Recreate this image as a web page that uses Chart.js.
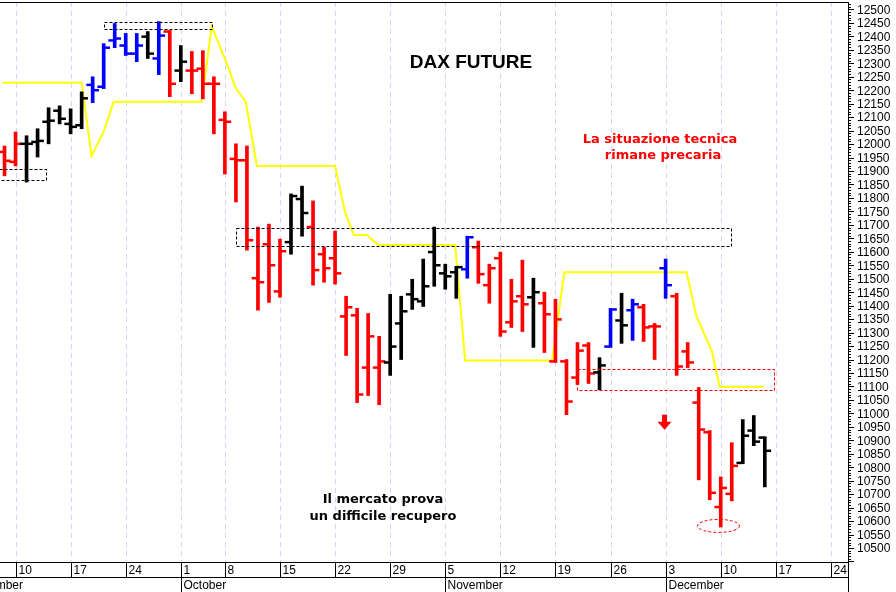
<!DOCTYPE html>
<html>
<head>
<meta charset="utf-8">
<script src="https://cdn.jsdelivr.net/npm/chart.js@4"></script>
<style>
  html, body { margin: 0; padding: 0; background: #fff; }
  canvas { display: block; }
</style>
</head>
<body>
<canvas id="c" width="896" height="592"></canvas>
<script>
// trading-day index (0 = Sep 10), OHLC
const dayIdx = [];
for (let i = -1; i <= 68; i++) dayIdx.push(i);
const opens = [11971,11934,12001,12008,12083,12124,12075,12070,12220,12213,12385,12366,12336,12399,12318,12418,12273,12273,12280,12224,12090,11945,11940,11502,11628,11453,11636,11796,11692,11591,11576,11360,11364,11170,11170,11189,11334,11442,11416,11599,11520,11524,11535,11617,11476,11576,11338,11435,11431,11409,11193,11193,11133,11252,11152,11248,11345,11383,11394,11323,11539,11435,11230,11040,10930,10652,10701,10816,10936,10910];
const highs = [11993,12045,12031,12057,12135,12142,12131,12194,12250,12373,12448,12411,12411,12418,12455,12422,12366,12344,12347,12250,12120,12001,11993,11692,11703,11647,11815,11844,11789,11617,11677,11435,11390,11371,11286,11442,11435,11498,11573,11692,11554,11546,11658,11640,11554,11599,11498,11569,11502,11450,11424,11200,11263,11263,11207,11390,11446,11424,11405,11334,11573,11446,11263,11096,10936,10764,10891,10977,10992,10913];
const lows = [11882,11919,11859,11952,12001,12075,12038,12057,12154,12206,12358,12329,12306,12318,12258,12176,12232,12187,12168,12038,11889,11785,11606,11383,11412,11431,11591,11658,11476,11487,11480,11215,11040,11066,11032,11141,11200,11386,11397,11472,11461,11427,11502,11483,11409,11286,11319,11304,11245,11226,11189,10995,11107,11111,11088,11245,11260,11271,11267,11200,11427,11141,11170,10753,10679,10578,10675,10813,10880,10727];
const closes = [11938,12001,12001,12012,12087,12094,12064,12170,12200,12358,12392,12336,12366,12336,12403,12224,12306,12273,12224,12224,12083,11940,11643,11487,11550,11602,11807,11744,11532,11539,11520,11394,11070,11286,11193,11248,11379,11424,11472,11550,11509,11543,11654,11517,11539,11304,11416,11405,11450,11368,11349,11044,11233,11148,11178,11386,11327,11405,11319,11323,11476,11174,11189,10940,10705,10723,10805,10917,10895,10861];
const barCodes = "rrkkkkkkbbbbbkbrkrrrrrrrrrkkrrrrrrrkkkkkkkbrrrrrkrrrrrkbkbrrbrrrrrrkkk";

// yellow stop line
const stopX = [-1.55,-1.18,6.0,6.9,8.0,8.9,16.9,17.8,19.1,20.0,20.9,21.9,29.0,29.9,30.7,31.9,32.9,39.9,40.8,48.7,49.8,60.9,61.8,63.2,63.9,67.9];
const stopY = [12269,12228,12228,11956,12046,12157,12157,12437,12306,12206,12157,11919,11919,11748,11662,11662,11625,11625,11196,11196,11524,11524,11360,11230,11099,11099];

// axis labels
const priceTicks = [];
for (let v = 10500; v <= 12500; v += 50) priceTicks.push(v);
const weekIdx = [0,5,10,15,19,24,29,34,39,44,49,54,59,64,69,74];
const weekLabels = ["10","17","24","1","8","15","22","29","5","12","19","26","3","10","17","24"];
const monthIdx = [15,39,59];
const monthLabels = ["October","November","December"];

// dashed boxes: [x0, x1, yLow, yHigh, colour]
const boxes = [
  [-1.55, 2.8, 11867, 11908, "#000"],
  [8.0, 17.8, 12429, 12455, "#000"],
  [20.0, 64.9, 11621, 11688, "#000"],
  [51.0, 68.9, 11088, 11166, "#f00"]
];

const colorOf = { r: "#ff0000", k: "#000000", b: "#0000ff" };
const barColors = dayIdx.map((_, k) => colorOf[barCodes[k]]);

const Y_MIN = 10448, Y_MAX = 12511;
const FRAME_TOP = 2;

const extras = {
  id: "extras",
  beforeDatasetsDraw(chart) {
    const { ctx, chartArea: a, scales: { x } } = chart;
    ctx.save();
    ctx.strokeStyle = "#d4d4ee";
    ctx.lineWidth = 1;
    ctx.setLineDash([5, 4]);
    weekIdx.forEach((d) => {
      const px = Math.round(x.getPixelForValue(d)) + 0.5;
      ctx.beginPath(); ctx.moveTo(px, FRAME_TOP); ctx.lineTo(px, a.bottom); ctx.stroke();
    });
    ctx.restore();
  },
  afterDatasetsDraw(chart) {
    const { ctx, chartArea: a, scales: { x, y } } = chart;
    ctx.save();
    ctx.lineWidth = 1;
    ctx.setLineDash([3, 2]);
    boxes.forEach((b) => {
      ctx.strokeStyle = b[4];
      const x0 = Math.max(x.getPixelForValue(b[0]), -1), x1 = x.getPixelForValue(b[1]);
      const y0 = y.getPixelForValue(b[3]), y1 = y.getPixelForValue(b[2]);
      ctx.strokeRect(Math.round(x0) + 0.5, Math.round(y0) + 0.5, Math.round(x1 - x0), Math.round(y1 - y0));
    });
    ctx.strokeStyle = "#f00";
    ctx.beginPath();
    ctx.ellipse(x.getPixelForValue(63.8), y.getPixelForValue(10582), 21, 6.5, 0, 0, Math.PI * 2);
    ctx.stroke();
    ctx.setLineDash([]);
    const ax = x.getPixelForValue(58.9), ay = y.getPixelForValue(10995);
    ctx.fillStyle = "#f00";
    ctx.fillRect(ax - 2.5, ay, 5, 8);
    ctx.beginPath();
    ctx.moveTo(ax - 7, ay + 7); ctx.lineTo(ax + 7, ay + 7); ctx.lineTo(ax, ay + 15); ctx.closePath(); ctx.fill();
    ctx.textAlign = "center";
    ctx.fillStyle = "#000";
    ctx.font = "bold 19px 'Liberation Sans', Arial, sans-serif";
    ctx.fillText("DAX FUTURE", 471, 68);
    ctx.fillStyle = "#ff0000";
    ctx.font = "bold 13px 'DejaVu Sans', sans-serif";
    ctx.fillText("La situazione tecnica", 660, 143);
    ctx.fillText("rimane precaria", 663, 159);
    ctx.fillStyle = "#000";
    ctx.fillText("Il mercato prova", 383, 503);
    ctx.fillText("un difficile recupero", 383, 520);
    // frame and bottom axis
    ctx.strokeStyle = "#000";
    ctx.lineWidth = 1;
    ctx.beginPath();
    ctx.moveTo(0, a.bottom + 0.5); ctx.lineTo(a.right, a.bottom + 0.5);
    ctx.moveTo(0, a.bottom + 15.5); ctx.lineTo(a.right, a.bottom + 15.5);
    ctx.moveTo(a.right + 0.5, FRAME_TOP); ctx.lineTo(a.right + 0.5, a.bottom + 30);
    ctx.moveTo(0, FRAME_TOP + 0.5); ctx.lineTo(a.right, FRAME_TOP + 0.5);
    ctx.stroke();
    ctx.font = "12px 'Liberation Sans', Arial, sans-serif";
    ctx.textAlign = "left";
    ctx.textBaseline = "middle";
    weekIdx.forEach((d, k) => {
      const px = Math.round(x.getPixelForValue(d)) + 0.5;
      ctx.beginPath(); ctx.moveTo(px, a.bottom); ctx.lineTo(px, a.bottom + 15); ctx.stroke();
      ctx.fillText(weekLabels[k], px + 2, a.bottom + 8.5);
    });
    ctx.textAlign = "right";
    ctx.fillText("September", 23, a.bottom + 23.5);
    ctx.textAlign = "left";
    monthIdx.forEach((d, k) => {
      const px = Math.round(x.getPixelForValue(d)) + 0.5;
      ctx.beginPath(); ctx.moveTo(px, a.bottom); ctx.lineTo(px, a.bottom + 30); ctx.stroke();
      ctx.fillText(monthLabels[k], px + 2, a.bottom + 23.5);
    });
    // price axis ticks and labels
    ctx.beginPath();
    for (let v = 10450; v <= 12530; v += 10) {
      const py = Math.round(y.getPixelForValue(v)) + 0.5;
      if (py < FRAME_TOP) continue;
      const len = v % 50 === 0 ? 6 : 3;
      ctx.moveTo(a.right, py); ctx.lineTo(a.right + len, py);
    }
    ctx.stroke();
    ctx.fillStyle = "#000";
    priceTicks.forEach((v) => {
      ctx.fillText(String(v), a.right + 9, y.getPixelForValue(v) + 1);
    });
    ctx.restore();
  }
};

new Chart(document.getElementById("c"), {
  data: {
    datasets: [
      {
        type: "line",
        data: stopX.map((v, k) => ({ x: v, y: stopY[k] })),
        borderColor: "#ffff00",
        borderWidth: 2,
        pointRadius: 0,
        tension: 0,
        clip: 12,
        order: 3
      },
      {
        type: "bar",
        data: dayIdx.map((d, k) => ({ x: d, y: [lows[k], highs[k]] })),
        backgroundColor: barColors,
        borderWidth: 0,
        barThickness: 3,
        clip: 12,
        order: 2
      },
      {
        type: "scatter",
        data: dayIdx.map((d, k) => ({ x: d - 0.3, y: opens[k] })),
        pointStyle: "line",
        pointRadius: 3,
        borderWidth: 2.5,
        pointBorderColor: barColors,
        clip: 12,
        order: 1
      },
      {
        type: "scatter",
        data: dayIdx.map((d, k) => ({ x: d + 0.3, y: closes[k] })),
        pointStyle: "line",
        pointRadius: 3,
        borderWidth: 2.5,
        pointBorderColor: barColors,
        clip: 12,
        order: 1
      }
    ]
  },
  options: {
    responsive: false,
    animation: false,
    layout: { padding: { top: 2, bottom: 30, left: 0, right: 48 } },
    plugins: { legend: { display: false }, tooltip: { enabled: false } },
    scales: {
      x: { type: "linear", min: -0.82, max: 75.55, display: false, offset: false },
      y: { min: Y_MIN, max: Y_MAX, display: false }
    }
  },
  plugins: [extras]
});
</script>
</body>
</html>
